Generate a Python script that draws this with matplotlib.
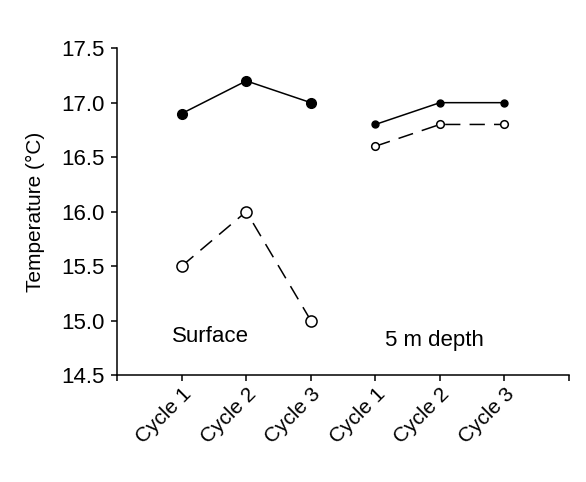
import matplotlib
matplotlib.use("Agg")
import matplotlib.pyplot as plt

plt.rcParams["font.family"] = ["Liberation Sans", "DejaVu Sans"]

cycles = ["Cycle 1", "Cycle 2", "Cycle 3"]
surface_x = [1, 2, 3]
depth_x = [4, 5, 6]
surface_filled = [16.9, 17.2, 17.0]
surface_open = [15.5, 16.0, 15.0]
depth_filled = [16.8, 17.0, 17.0]
depth_open = [16.6, 16.8, 16.8]
y_ticks = [14.5, 15.0, 15.5, 16.0, 16.5, 17.0, 17.5]

fig = plt.figure(figsize=(5.86, 4.82), dpi=100)
ax = fig.add_axes([0.2, 0.222, 0.771, 0.678])

dash = (10, 6)
ax.plot(surface_x, surface_filled, "-", color="black", lw=1.1,
        marker="o", ms=7, mfc="black", mec="black")
ax.plot(surface_x, surface_open, color="black", lw=1.1, dashes=dash,
        marker="o", ms=8, mfc="white", mec="black", mew=1.1)
ax.plot(depth_x, depth_filled, "-", color="black", lw=1.1,
        marker="o", ms=5, mfc="black", mec="black")
ax.plot(depth_x, depth_open, color="black", lw=1.1, dashes=dash,
        marker="o", ms=5.5, mfc="white", mec="black", mew=1.1)

ax.set_xlim(0, 7)
ax.set_ylim(14.5, 17.5)
ax.set_yticks(y_ticks)
ax.set_yticklabels([f"{v:.1f}" for v in y_ticks], fontsize=16)
ax.set_xticks(range(0, 8))
ax.set_xticklabels([""] + cycles + cycles + [""], fontsize=15,
                   rotation=45, ha="right", rotation_mode="anchor")
ax.set_ylabel("Temperature (°C)", fontsize=15, labelpad=12)

for side in ["top", "right"]:
    ax.spines[side].set_visible(False)
for side in ["left", "bottom"]:
    ax.spines[side].set_linewidth(1.1)
ax.tick_params(direction="out", length=4, width=1.1, pad=5)
ax.tick_params(axis="x", pad=3)

ax.text(1.44, 14.85, "Surface", fontsize=16, ha="center", va="center")
ax.text(4.91, 14.82, "5 m depth", fontsize=16, ha="center", va="center")

fig.savefig("out.png", dpi=100)
